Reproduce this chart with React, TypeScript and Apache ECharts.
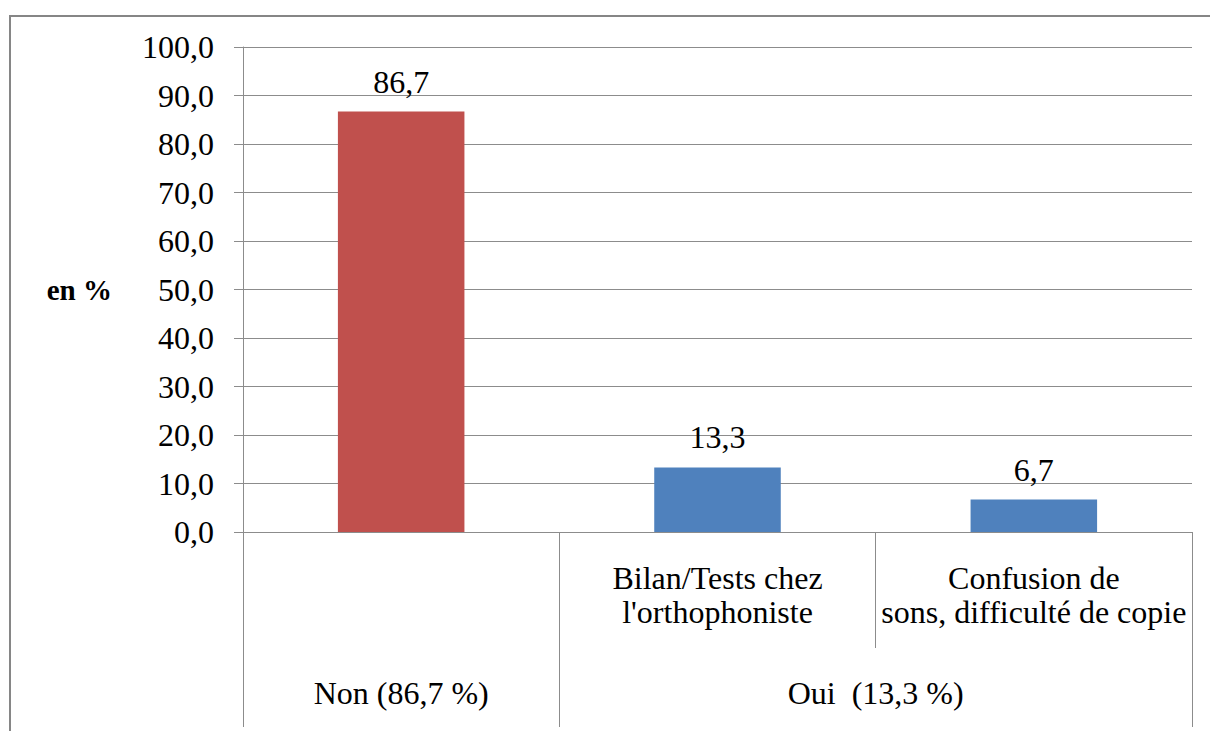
import React, { useEffect, useRef } from "react";
import * as echarts from "echarts";

const innerCategories = ["", "Bilan/Tests chez\nl'orthophoniste", "Confusion de\nsons, difficulté de copie"];
const values = [86.7, 13.3, 6.7];
const barColors = ["#C0504D", "#4F81BD", "#4F81BD"];
const outerLabels = ["Non (86,7 %)", "Oui  (13,3 %)"];
const outerSpans = [1, 2];
const yTicks = [0, 10, 20, 30, 40, 50, 60, 70, 80, 90, 100];

const FONT = "Liberation Serif";
const FS = 32;
const fmt = (v: number) => v.toFixed(1).replace(".", ",");

export default function App() {
  const ref = useRef<HTMLDivElement>(null);
  useEffect(() => {
    if (!ref.current) return;
    const chart = echarts.init(ref.current, undefined, { renderer: "svg" });
    const bounds: number[] = [0];
    const centers: number[] = [];
    let acc = 0;
    outerSpans.forEach((s) => {
      centers.push(acc + s / 2);
      acc += s;
      bounds.push(acc);
    });
    const centerLabel: Record<string, string> = {};
    centers.forEach((c, i) => (centerLabel[String(c)] = outerLabels[i]));

    chart.setOption({
      animation: false,
      backgroundColor: "#fff",
      textStyle: { fontFamily: FONT },
      graphic: [
        {
          type: "rect",
          z: -10,
          shape: { x: 10, y: 16, width: 1400, height: 900 },
          style: { fill: "none", stroke: "#868686", lineWidth: 2 },
        },
      ],
      grid: {
        left: 243,
        right: 18,
        top: 47,
        bottom: 199,
        containLabel: false,
        outerBoundsMode: "none",
      },
      xAxis: [
        {
          type: "category",
          data: innerCategories,
          position: "bottom",
          axisLine: { show: true, lineStyle: { color: "#8c8c8c", width: 1 } },
          axisTick: { show: true, interval: 0, length: 116, lineStyle: { color: "#8c8c8c" } },
          axisLabel: {
            interval: 0,
            margin: 29,
            fontSize: FS,
            lineHeight: 34,
            color: "#000",
            fontFamily: FONT,
            hideOverlap: false,
          },
          splitLine: { show: false },
        },
        {
          type: "value",
          min: 0,
          max: acc,
          position: "bottom",
          axisLine: { show: false },
          axisTick: { show: true, length: 195, customValues: bounds, lineStyle: { color: "#8c8c8c" } },
          axisLabel: {
            customValues: centers,
            margin: 145,
            fontSize: FS,
            color: "#000",
            fontFamily: FONT,
            formatter: (v: number) => centerLabel[String(v)] ?? "",
          },
          splitLine: { show: false },
        },
      ],
      yAxis: {
        type: "value",
        min: 0,
        max: 100,
        interval: 10,
        name: "en %",
        nameLocation: "middle",
        nameRotate: 0,
        nameGap: 131,
        nameTextStyle: { fontSize: 29, fontWeight: "bold", color: "#000", fontFamily: FONT },
        axisLine: { show: true, lineStyle: { color: "#8c8c8c" } },
        axisTick: { show: true, length: 9, lineStyle: { color: "#8c8c8c" } },
        axisLabel: {
          margin: 29,
          fontSize: FS,
          color: "#000",
          fontFamily: FONT,
          customValues: yTicks,
          formatter: (v: number) => fmt(v),
        },
        splitLine: { show: true, lineStyle: { color: "#8c8c8c", width: 1 } },
      },
      series: [
        {
          type: "bar",
          xAxisIndex: 0,
          barWidth: "40%",
          data: values.map((v, i) => ({ value: v, itemStyle: { color: barColors[i] } })),
          label: {
            show: true,
            position: "top",
            distance: 14,
            fontSize: FS,
            color: "#000",
            fontFamily: FONT,
            formatter: (p: any) => fmt(p.value),
          },
        },
      ],
    });
    return () => chart.dispose();
  }, []);
  return (
    <div
      ref={ref}
      style={{ position: "fixed", left: 0, top: 0, width: 1210, height: 731 }}
    />
  );
}
